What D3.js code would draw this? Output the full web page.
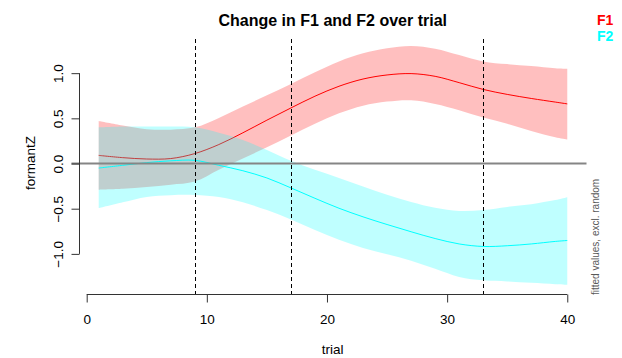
<!DOCTYPE html>
<html>
<head>
<meta charset="utf-8">
<script src="https://cdn.jsdelivr.net/npm/d3@7"></script>
<style>
  html, body { margin: 0; padding: 0; background: #fff; }
  svg { display: block; font-family: "Liberation Sans", Arial, sans-serif; }
</style>
</head>
<body>
<svg id="chart" width="622" height="358"></svg>
<script>
// ---- data ----
const trial   = [1, 3, 5, 7, 9, 11, 13, 15, 17, 19, 21, 23, 25, 27, 29, 31, 33, 35, 37, 39, 40];
const f1Fit   = [0.09, 0.065, 0.05, 0.055, 0.11, 0.21, 0.34, 0.48, 0.615, 0.745, 0.855, 0.935, 0.98, 0.995, 0.965, 0.895, 0.82, 0.765, 0.72, 0.68, 0.66];
const f1Upper = [0.47, 0.42, 0.38, 0.375, 0.40, 0.505, 0.63, 0.755, 0.88, 1.01, 1.13, 1.22, 1.275, 1.30, 1.27, 1.20, 1.13, 1.10, 1.08, 1.055, 1.048];
const f1Lower = [-0.29, -0.28, -0.26, -0.235, -0.2, -0.07, 0.055, 0.18, 0.31, 0.44, 0.555, 0.64, 0.685, 0.70, 0.66, 0.59, 0.508, 0.44, 0.36, 0.29, 0.265];
const f2Fit   = [-0.05, -0.02, 0.01, 0.03, 0.035, -0.02, -0.08, -0.16, -0.27, -0.385, -0.495, -0.59, -0.675, -0.755, -0.83, -0.89, -0.918, -0.91, -0.89, -0.862, -0.852];
const f2Upper = [0.40, 0.41, 0.41, 0.41, 0.40, 0.34, 0.26, 0.15, 0.03, -0.07, -0.16, -0.255, -0.345, -0.425, -0.49, -0.525, -0.515, -0.48, -0.45, -0.405, -0.374];
const f2Lower = [-0.495, -0.43, -0.37, -0.35, -0.348, -0.37, -0.43, -0.515, -0.62, -0.735, -0.845, -0.935, -1.005, -1.075, -1.165, -1.255, -1.293, -1.305, -1.32, -1.335, -1.341];
const markers = [9, 17, 33];
const xTicks  = [0, 10, 20, 30, 40];
const yTicks  = [-1.0, -0.5, 0.0, 0.5, 1.0];
const titleText = "Change in F1 and F2 over trial";
const xLabel = "trial";
const yLabel = "formantZ";
const sideNote = "fitted values, excl. random";
const legendLabels = ["F1", "F2"];
const seriesColors = ["#ff0000", "#00ffff"];

// ---- layout ----
const plot = { left: 79, right: 586.5, top: 39, bottom: 294 };
const svg = d3.select("#chart");

const x = d3.scaleLinear().domain([-0.64, 41.6]).range([plot.left, plot.right]);
const y = d3.scaleLinear().domain([-1.444, 1.378]).range([plot.bottom, plot.top]);

const area = (lo, hi) => d3.area()
  .x((d, i) => x(trial[i]))
  .y0((d, i) => y(lo[i]))
  .y1((d, i) => y(hi[i]))
  .curve(d3.curveCatmullRom);
const line = vals => d3.line()
  .x((d, i) => x(trial[i]))
  .y((d, i) => y(vals[i]))
  .curve(d3.curveCatmullRom);

// F1 band + line
svg.append("path").datum(trial).attr("d", area(f1Lower, f1Upper))
  .attr("fill", seriesColors[0]).attr("fill-opacity", 0.25);
svg.append("path").datum(trial).attr("d", line(f1Fit))
  .attr("fill", "none").attr("stroke", seriesColors[0]).attr("stroke-width", 1);
// F2 band + line
svg.append("path").datum(trial).attr("d", area(f2Lower, f2Upper))
  .attr("fill", seriesColors[1]).attr("fill-opacity", 0.25);
svg.append("path").datum(trial).attr("d", line(f2Fit))
  .attr("fill", "none").attr("stroke", seriesColors[1]).attr("stroke-width", 1);

// zero line
svg.append("line")
  .attr("x1", 71.5).attr("x2", plot.right)
  .attr("y1", y(0)).attr("y2", y(0))
  .attr("stroke", "#858585").attr("stroke-width", 2);

// vertical dashed markers
svg.selectAll("line.marker").data(markers).join("line")
  .attr("class", "marker")
  .attr("x1", d => Math.round(x(d)) + 0.5).attr("x2", d => Math.round(x(d)) + 0.5)
  .attr("y1", plot.top).attr("y2", plot.bottom)
  .attr("stroke", "#000").attr("stroke-width", 1)
  .attr("stroke-dasharray", "4,3");

// x axis
const xAxis = d3.axisBottom(x).tickValues(xTicks).tickSize(8).tickSizeOuter(0).tickFormat(d3.format("d"));
const gx = svg.append("g").attr("transform", `translate(0,${plot.bottom + 0.5})`).call(xAxis);
gx.select(".domain").attr("d", `M${x(0)},0H${x(40)}`).attr("stroke", "#333");
gx.selectAll(".tick line").attr("stroke", "#333");
gx.selectAll(".tick text").attr("font-size", 13.5).attr("fill", "#000")
  .attr("font-family", "Liberation Sans, Arial, sans-serif")
  .attr("dy", null).attr("dominant-baseline", "central").attr("y", 25);

// y axis
const yAxis = d3.axisLeft(y).tickValues(yTicks).tickSize(8).tickSizeOuter(0).tickFormat(d3.format(".1f"));
const gy = svg.append("g").attr("transform", `translate(${plot.left + 0.5},0)`).call(yAxis);
gy.select(".domain").attr("d", `M0,${y(1)}V${y(-1)}`).attr("stroke", "#333");
gy.selectAll(".tick line").attr("stroke", "#333");
gy.selectAll(".tick text")
  .attr("font-size", 13.5).attr("fill", "#000")
  .attr("font-family", "Liberation Sans, Arial, sans-serif")
  .attr("x", null).attr("dy", null)
  .attr("text-anchor", "middle")
  .attr("dominant-baseline", "central")
  .attr("transform", "translate(-21,0) rotate(-90)");

// title
svg.append("text").attr("x", (plot.left + plot.right) / 2).attr("y", 25.5)
  .attr("text-anchor", "middle").attr("font-size", 16).attr("font-weight", "bold")
  .text(titleText);

// axis labels
svg.append("text").attr("x", (plot.left + plot.right) / 2).attr("y", 354)
  .attr("text-anchor", "middle").attr("font-size", 13.5).text(xLabel);
svg.append("text").attr("transform", `translate(34.5,163) rotate(-90)`)
  .attr("text-anchor", "middle").attr("font-size", 13.5).text(yLabel);

// side note
svg.append("text").attr("transform", `translate(599,${plot.bottom + 1}) rotate(-90)`)
  .attr("text-anchor", "start").attr("font-size", 10).attr("fill", "#595959")
  .text(sideNote);

// legend
svg.selectAll("text.legend").data(legendLabels).join("text")
  .attr("class", "legend")
  .attr("x", 597).attr("y", (d, i) => 25 + i * 16)
  .attr("font-size", 14).attr("font-weight", "bold")
  .attr("fill", (d, i) => seriesColors[i])
  .text(d => d);
</script>
</body>
</html>
